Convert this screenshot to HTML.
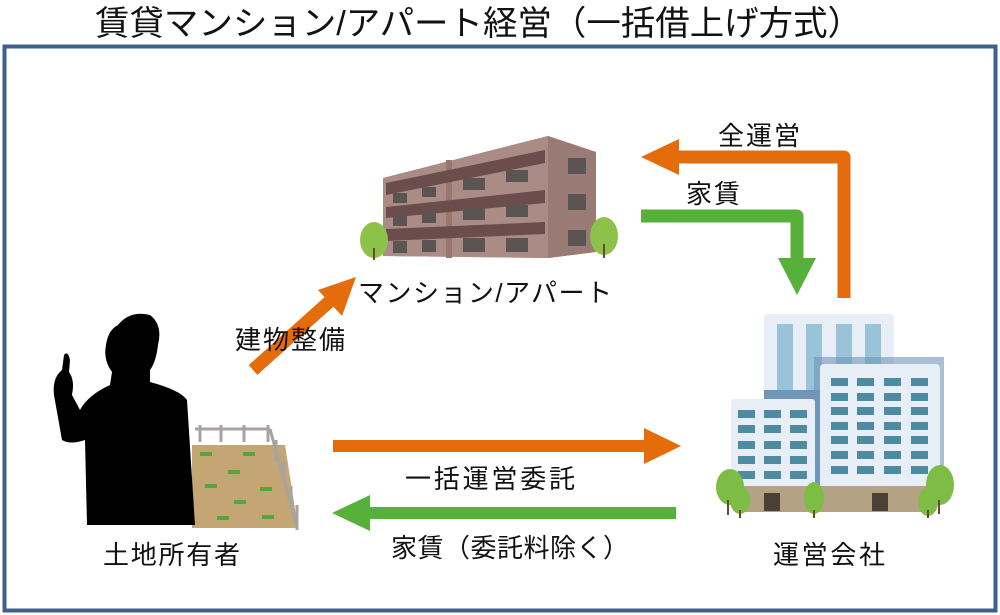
<!DOCTYPE html>
<html><head><meta charset="utf-8"><style>
html,body{margin:0;padding:0;background:#fff;width:1000px;height:615px;overflow:hidden}
svg{display:block}
text{font-family:"Liberation Sans","Noto Sans CJK JP",sans-serif;fill:#111}
</style></head><body>
<svg width="1000" height="615" viewBox="0 0 1000 615" xmlns="http://www.w3.org/2000/svg">
<text x="95" y="35" font-size="34" textLength="767" lengthAdjust="spacingAndGlyphs">賃貸マンション/アパート経営（一括借上げ方式）</text>
<rect x="4.5" y="46.5" width="991" height="564" fill="#fff" stroke="#3f5f8c" stroke-width="4"/>

<!-- apartment building -->
<g>
<polygon points="383,178 548,136 596,152 596,252 548,258 383,256" fill="#a78782"/>
<polygon points="548,136 596,152 596,252 548,258" fill="#9a7a75"/>
<polygon points="383,178 548,136 548,258 383,256" fill="#ab8b86"/>
<rect x="446" y="160" width="6" height="98" fill="#97776f"/>
<polygon points="386,183 545,150 545,163 386,195" fill="#6b4e4b"/>
<polygon points="386,207 545,190 545,203 386,218" fill="#6b4e4b"/>
<polygon points="386,229 545,222 545,234 386,241" fill="#6b4e4b"/>
<g fill="#5a5453">
<rect x="393" y="193" width="14" height="10"/><rect x="422" y="187" width="14" height="10"/><rect x="463" y="178" width="22" height="12"/><rect x="506" y="170" width="22" height="12"/>
<rect x="393" y="216" width="14" height="10"/><rect x="422" y="213" width="14" height="10"/><rect x="463" y="208" width="22" height="12"/><rect x="506" y="205" width="22" height="12"/>
<rect x="393" y="241" width="14" height="12"/><rect x="422" y="240" width="14" height="12"/><rect x="463" y="238" width="22" height="14"/><rect x="506" y="238" width="22" height="14"/>
<rect x="568" y="158" width="18" height="16"/><rect x="568" y="194" width="18" height="16"/><rect x="568" y="230" width="18" height="16"/>
</g>
<ellipse cx="374" cy="240" rx="14" ry="18" fill="#8cc24a"/><rect x="373" y="248" width="2" height="12" fill="#6b4a2b"/>
<ellipse cx="604" cy="236" rx="14" ry="19" fill="#8cc24a"/><rect x="603" y="244" width="2" height="14" fill="#6b4a2b"/>
</g>

<!-- field -->
<polygon points="192,445 285,445 298,528 192,528" fill="#c4a574"/>
<g stroke="#a9a3a0" stroke-width="3" fill="none">
<line x1="195" y1="429" x2="270" y2="429"/>
<line x1="270" y1="429" x2="297" y2="528"/>
<line x1="200" y1="425" x2="200" y2="442"/><line x1="221" y1="425" x2="221" y2="442"/><line x1="244" y1="425" x2="244" y2="442"/><line x1="268" y1="425" x2="268" y2="442"/>
<line x1="276" y1="440" x2="276" y2="462"/><line x1="284" y1="462" x2="284" y2="484"/><line x1="291" y1="486" x2="291" y2="510"/><line x1="297" y1="505" x2="297" y2="530"/>
</g>
<g fill="#5aa33a"><rect x="200" y="452" width="12" height="4"/><rect x="243" y="452" width="12" height="4"/><rect x="228" y="470" width="12" height="4"/><rect x="205" y="484" width="12" height="4"/><rect x="260" y="487" width="12" height="4"/><rect x="234" y="500" width="12" height="4"/><rect x="217" y="516" width="12" height="4"/><rect x="262" y="515" width="12" height="4"/></g>

<!-- person -->
<path d="M118,325 Q130,310 150,315 Q163,325 158,345 Q156,362 150,370 L150,382 Q180,390 187,400 L195,525 L87,525 L85,440 Q70,445 62,440 L54,395 Q52,378 62,370 L64,355 Q68,350 70,360 L69,372 Q75,380 72,395 L80,410 Q88,395 110,385 L112,372 Q103,360 106,345 Q108,330 118,325 Z" fill="#000"/>

<!-- office building -->
<g>
<rect x="764" y="314" width="130" height="100" rx="4" fill="#e8eef5"/>
<g fill="#98c3d8"><rect x="777" y="324" width="16" height="80"/><rect x="806" y="324" width="16" height="80"/><rect x="836" y="324" width="16" height="80"/><rect x="865" y="324" width="16" height="80"/></g>
<rect x="764" y="390" width="70" height="110" fill="#6f96b8"/>
<rect x="814" y="357" width="130" height="140" fill="#6f96b8" opacity="0.6"/>
<rect x="820" y="364" width="120" height="140" rx="4" fill="#e8eef5"/>
<rect x="731" y="399" width="84" height="105" rx="3" fill="#e8eef5"/>
<g fill="#4e8aa0">
<rect x="831" y="378" width="17" height="8"/><rect x="857" y="378" width="17" height="8"/><rect x="884" y="378" width="17" height="8"/><rect x="911" y="378" width="17" height="8"/>
<rect x="831" y="393" width="17" height="8"/><rect x="857" y="393" width="17" height="8"/><rect x="884" y="393" width="17" height="8"/><rect x="911" y="393" width="17" height="8"/>
<rect x="831" y="407" width="17" height="8"/><rect x="857" y="407" width="17" height="8"/><rect x="884" y="407" width="17" height="8"/><rect x="911" y="407" width="17" height="8"/>
<rect x="831" y="422" width="17" height="8"/><rect x="857" y="422" width="17" height="8"/><rect x="884" y="422" width="17" height="8"/><rect x="911" y="422" width="17" height="8"/>
<rect x="831" y="436" width="17" height="8"/><rect x="857" y="436" width="17" height="8"/><rect x="884" y="436" width="17" height="8"/><rect x="911" y="436" width="17" height="8"/>
<rect x="831" y="451" width="17" height="8"/><rect x="857" y="451" width="17" height="8"/><rect x="884" y="451" width="17" height="8"/><rect x="911" y="451" width="17" height="8"/>
<rect x="831" y="466" width="17" height="8"/><rect x="857" y="466" width="17" height="8"/><rect x="884" y="466" width="17" height="8"/><rect x="911" y="466" width="17" height="8"/>
<rect x="738" y="410" width="17" height="8"/><rect x="764" y="410" width="17" height="8"/><rect x="790" y="410" width="17" height="8"/>
<rect x="738" y="425" width="17" height="8"/><rect x="764" y="425" width="17" height="8"/><rect x="790" y="425" width="17" height="8"/>
<rect x="738" y="441" width="17" height="8"/><rect x="764" y="441" width="17" height="8"/><rect x="790" y="441" width="17" height="8"/>
<rect x="738" y="456" width="17" height="8"/><rect x="764" y="456" width="17" height="8"/><rect x="790" y="456" width="17" height="8"/>
<rect x="738" y="471" width="17" height="8"/><rect x="764" y="471" width="17" height="8"/><rect x="790" y="471" width="17" height="8"/>
</g>
<rect x="740" y="486" width="195" height="26" fill="#b3a384"/>
<rect x="764" y="493" width="16" height="18" fill="#4a4036"/><rect x="872" y="493" width="16" height="18" fill="#4a4036"/>
<g fill="#7dbd45"><ellipse cx="730" cy="487" rx="14" ry="18"/><ellipse cx="740" cy="500" rx="10" ry="14"/><ellipse cx="814" cy="498" rx="10" ry="16"/><ellipse cx="940" cy="485" rx="14" ry="20"/><ellipse cx="928" cy="502" rx="10" ry="14"/></g>
<g fill="#6b4a2b"><rect x="727" y="500" width="2" height="15"/><rect x="739" y="510" width="2" height="8"/><rect x="813" y="510" width="2" height="8"/><rect x="927" y="510" width="2" height="8"/><rect x="938" y="500" width="2" height="14"/></g>
</g>

<!-- arrows -->
<path d="M844,298 L844,157 L678,157" fill="none" stroke="#e46c0a" stroke-width="13" stroke-linejoin="round"/>
<polygon points="641,157 679,139 679,175" fill="#e46c0a"/>
<path d="M641,216 L797,216 L797,260" fill="none" stroke="#55b13a" stroke-width="13" stroke-linejoin="round"/>
<polygon points="778,258 816,258 797,295" fill="#55b13a"/>
<line x1="253" y1="370" x2="330" y2="301" stroke="#e46c0a" stroke-width="13"/>
<polygon points="356,277 318,290 342,316" fill="#e46c0a"/>
<rect x="333" y="440" width="312" height="12" fill="#e46c0a"/>
<polygon points="644,428 681,446 644,464" fill="#e46c0a"/>
<rect x="369" y="507" width="307" height="12" fill="#55b13a"/>
<polygon points="332,513 370,495 370,531" fill="#55b13a"/>

<g font-size="26" lengthAdjust="spacingAndGlyphs">
<text x="718" y="145" textLength="82">全運営</text>
<text x="686" y="203" textLength="54">家賃</text>
<text x="358" y="302" textLength="254">マンション/アパート</text>
<text x="235" y="349" textLength="110">建物整備</text>
<text x="405" y="488" textLength="170">一括運営委託</text>
<text x="391" y="557" textLength="238">家賃（委託料除く）</text>
<text x="103" y="564" textLength="137">土地所有者</text>
<text x="773" y="564" textLength="112">運営会社</text>
</g>
</svg>
</body></html>
